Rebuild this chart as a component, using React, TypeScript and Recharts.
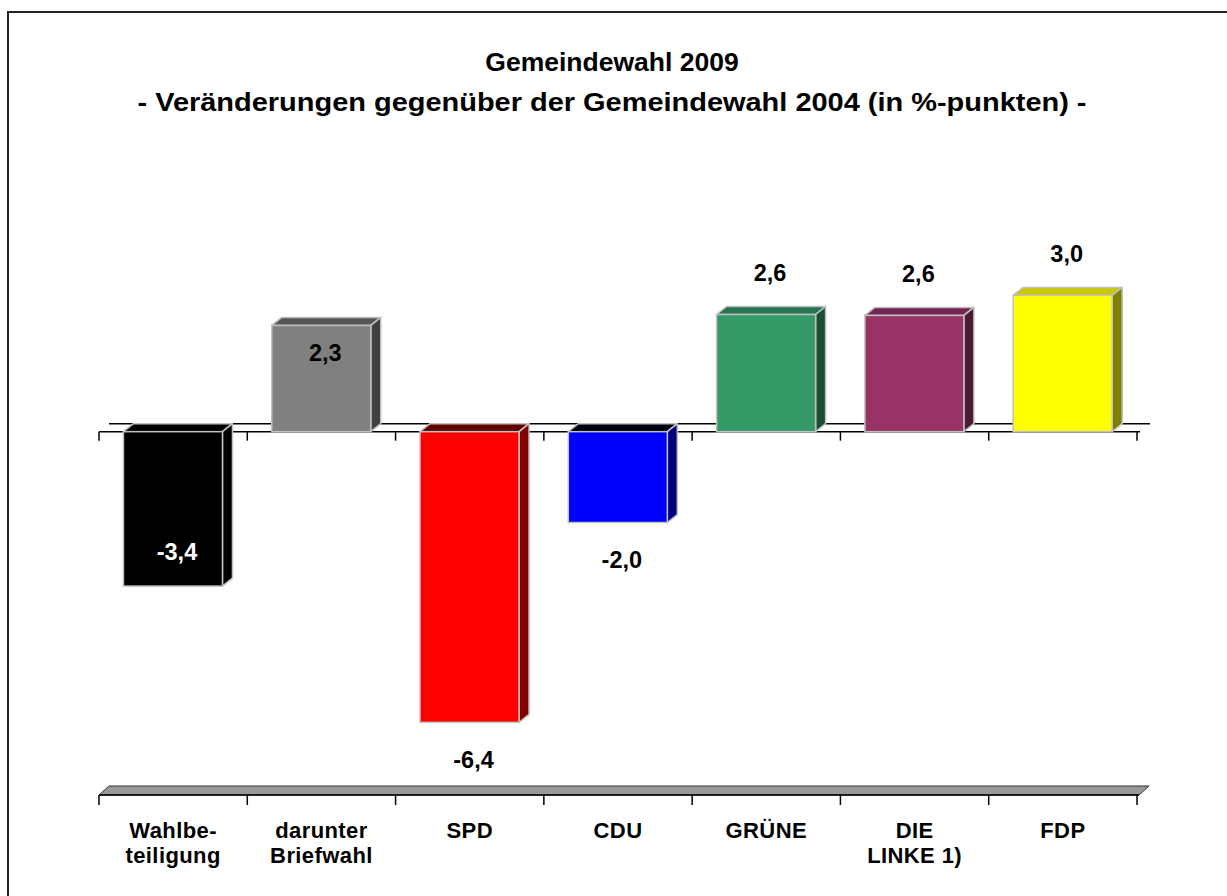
import React from 'react';
import { BarChart, Bar, XAxis, YAxis, ReferenceLine } from 'recharts';

// ---- data ----
const categories = ['Wahlbe-\nteiligung', 'darunter\nBriefwahl', 'SPD', 'CDU', 'GRÜNE', 'DIE\nLINKE 1)', 'FDP'];
const changes = [-3.4, 2.34, -6.4, -2.0, 2.58, 2.56, 3.0];
const yDomain: [number, number] = [-8, 4];
const titleLine1 = 'Gemeindewahl 2009';
const titleLine2 = '- Veränderungen gegenüber der Gemeindewahl 2004 (in %-punkten) -';

const data = categories.map((name, i) => ({ name, value: changes[i] }));

// ---- styles ----
const FONT = '"Liberation Sans", Arial, Helvetica, sans-serif';
const DX = 10;
const DY = -8;
const W = 1227;
const H = 896;

type Face = { front: string; top: string; side: string; place: string; labelColor: string };
const faces: Face[] = [
  { front: '#000000', top: '#000000', side: '#000000', place: 'insideBottom', labelColor: '#ffffff' },
  { front: '#808080', top: '#555555', side: '#404040', place: 'insideTop', labelColor: '#000000' },
  { front: '#ff0000', top: '#600000', side: '#800000', place: 'below', labelColor: '#000000' },
  { front: '#0000ff', top: '#000010', side: '#000080', place: 'below', labelColor: '#000000' },
  { front: '#339966', top: '#267350', side: '#1a4d33', place: 'above', labelColor: '#000000' },
  { front: '#993366', top: '#732650', side: '#4d1a33', place: 'above', labelColor: '#000000' },
  { front: '#ffff00', top: '#c8c800', side: '#808000', place: 'above', labelColor: '#000000' },
];

const fmt = (v: number) => v.toFixed(1).replace('.', ',');

const Box3D = (props: any) => {
  const { x, y, width, height, index, payload } = props;
  const top = height < 0 ? y + height : y;
  const h = Math.abs(height);
  const s = faces[index] || faces[0];
  const stroke = '#c0c0c0';
  const topFace = `${x},${top} ${x + DX},${top + DY} ${x + width + DX},${top + DY} ${x + width},${top}`;
  const sideFace = `${x + width},${top} ${x + width + DX},${top + DY} ${x + width + DX},${top + h + DY} ${x + width},${top + h}`;
  const cx = x + width / 2 + 4;
  let cy = top - 42;
  if (s.place === 'insideBottom') cy = top + h - 35;
  else if (s.place === 'insideTop') cy = top + 27;
  else if (s.place === 'below') cy = top + h + 37;
  const val = payload && typeof payload.value === 'number' ? payload.value : changes[index];
  return (
    <g>
      <polygon points={topFace} fill={s.top} stroke={stroke} strokeWidth={1.5} strokeLinejoin="round" />
      <polygon points={sideFace} fill={s.side} stroke={stroke} strokeWidth={1.5} strokeLinejoin="round" />
      <rect x={x} y={top} width={width} height={h} fill={s.front} stroke={stroke} strokeWidth={1.5} />
      <text
        x={cx}
        y={cy + 8.5}
        textAnchor="middle"
        fontFamily={FONT}
        fontWeight="bold"
        fontSize={23.5}
        fill={s.labelColor}
      >
        {fmt(val)}
      </text>
    </g>
  );
};

const ZeroAxis = (props: any) => {
  const { x1, x2, y1 } = props;
  const n = categories.length;
  const step = (x2 - x1) / n;
  const ticks = Array.from({ length: n + 1 }, (_, i) => x1 + i * step);
  return (
    <g>
      <line x1={x1 + DX} y1={y1 + DY} x2={x2 + 3 + DX} y2={y1 + DY} stroke="#000" strokeWidth={1.5} />
      <line x1={x1} y1={y1} x2={x2 + 3} y2={y1} stroke="#000" strokeWidth={1.5} />
      {ticks.map((tx, i) => (
        <line key={i} x1={tx} x2={tx} y1={y1} y2={y1 + 9} stroke="#000" strokeWidth={1.5} />
      ))}
    </g>
  );
};

const Floor = (props: any) => {
  const { x1, x2, y1 } = props;
  const n = categories.length;
  const step = (x2 - x1) / n;
  const ticks = Array.from({ length: n + 1 }, (_, i) => x1 + i * step);
  const pts = `${x1},${y1} ${x2 + 2},${y1} ${x2 + 2 + DX},${y1 + DY - 1} ${x1 + DX},${y1 + DY - 1}`;
  return (
    <g>
      <polygon points={pts} fill="#999999" stroke="#333333" strokeWidth={1} />
      <line x1={x1} y1={y1} x2={x2 + 2} y2={y1} stroke="#000" strokeWidth={1.5} />
      {ticks.map((tx, i) => (
        <line key={i} x1={tx} x2={tx} y1={y1} y2={y1 + 10} stroke="#000" strokeWidth={1.5} />
      ))}
    </g>
  );
};

const CategoryTick = (props: any) => {
  const { x, y, payload } = props;
  const lines = String(payload.value).split('\n');
  return (
    <g>
      <text
        x={x}
        y={y}
        textAnchor="middle"
        fontFamily={FONT}
        fontWeight="bold"
        fontSize={22}
        letterSpacing={0.4}
        fill="#000"
      >
        {lines.map((l, i) => (
          <tspan key={i} x={x} dy={i === 0 ? 43 : 25}>
            {l}
          </tspan>
        ))}
      </text>
    </g>
  );
};

export default function App() {
  return (
    <div style={{ position: 'absolute', left: 0, top: 0, width: W, height: H, overflow: 'hidden', background: '#fff' }}>
      <div
        style={{
          position: 'absolute',
          left: 7,
          top: 11,
          width: W + 20,
          height: H + 20,
          border: '2px solid #222',
          boxSizing: 'border-box',
        }}
      />
      <svg width={W} height={H} style={{ position: 'absolute', left: 0, top: 0 }}>
        <text x={612} y={71} textAnchor="middle" fontFamily={FONT} fontWeight="bold" fontSize={26.5} fill="#000">
          {titleLine1}
        </text>
        <text
          x={612}
          y={111}
          textAnchor="middle"
          fontFamily={FONT}
          fontWeight="bold"
          fontSize={26.5}
          textLength={949}
          lengthAdjust="spacingAndGlyphs"
          fill="#000"
        >
          {titleLine2}
        </text>
      </svg>
      <div style={{ position: 'absolute', left: 0, top: 0 }}>
        <BarChart
          width={W}
          height={H}
          data={data}
          margin={{ top: 250, right: 90, bottom: 41, left: 99 }}
          barCategoryGap="16.5%"
        >
          <YAxis type="number" domain={yDomain} hide width={0} />
          <XAxis
            dataKey="name"
            height={60}
            axisLine={false}
            tickLine={false}
            tickSize={0}
            tickMargin={0}
            interval={0}
            tick={<CategoryTick />}
          />
          <ReferenceLine y={-8} shape={<Floor />} {...({ zIndex: -60 } as any)} />
          <ReferenceLine y={0} shape={<ZeroAxis />} {...({ zIndex: -60 } as any)} />
          <Bar dataKey="value" shape={<Box3D />} isAnimationActive={false} />
        </BarChart>
      </div>
    </div>
  );
}
